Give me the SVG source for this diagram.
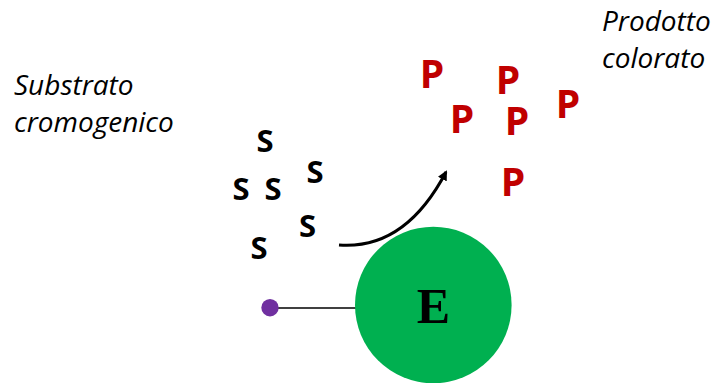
<svg xmlns="http://www.w3.org/2000/svg" width="717" height="383" viewBox="0 0 717 383">
<style>
.lbl{font-family:"Open Sans","Liberation Sans",sans-serif;font-style:italic;font-size:28px;fill:#000}
.s{font-family:"Open Sans","Liberation Sans",sans-serif;font-weight:bold;font-size:31px;fill:#000;text-anchor:middle}
.p{font-family:"Open Sans","Liberation Sans",sans-serif;font-weight:bold;font-size:39px;fill:#C00000;text-anchor:middle}
.e{font-family:"Liberation Serif","Times New Roman",serif;font-weight:bold;font-size:50px;fill:#000;text-anchor:middle}
</style>
<defs>
<marker id="ah" markerWidth="10" markerHeight="10" refX="8" refY="5" orient="auto" markerUnits="userSpaceOnUse" viewBox="0 0 10 10">
<path d="M0,0 L10,5 L0,10 z" fill="#000"/>
</marker>
</defs>
<rect width="717" height="383" fill="#fff"/>
<g id="labels">
<text class="lbl" x="14" y="95">Substrato</text>
<text class="lbl" x="14" y="132">cromogenico</text>
<text class="lbl" x="602" y="31">Prodotto</text>
<text class="lbl" x="602" y="68">colorato</text>
</g>
<g id="substrate">
<text class="s" x="265" y="152">S</text>
<text class="s" x="241" y="200">S</text>
<text class="s" x="273" y="200">S</text>
<text class="s" x="315" y="183">S</text>
<text class="s" x="307.5" y="237">S</text>
<text class="s" x="259" y="259">S</text>
</g>
<g id="product">
<text class="p" x="432" y="88">P</text>
<text class="p" x="508" y="94">P</text>
<text class="p" x="462" y="133">P</text>
<text class="p" x="517" y="135">P</text>
<text class="p" x="568" y="118">P</text>
<text class="p" x="513" y="196">P</text>
</g>
<g id="connectors">
<path d="M339,245 Q405,250 446,172" fill="none" stroke="#000" stroke-width="3" marker-end="url(#ah)"/>
<line x1="270" y1="308" x2="356" y2="308" stroke="#000" stroke-width="1.5"/>
</g>
<g id="enzyme">
<circle cx="433.3" cy="305" r="78.3" fill="#00B050"/>
<text class="e" x="433.5" y="323">E</text>
</g>
<g id="ligand">
<circle cx="270" cy="307.7" r="8.7" fill="#7030A0"/>
</g>
</svg>
